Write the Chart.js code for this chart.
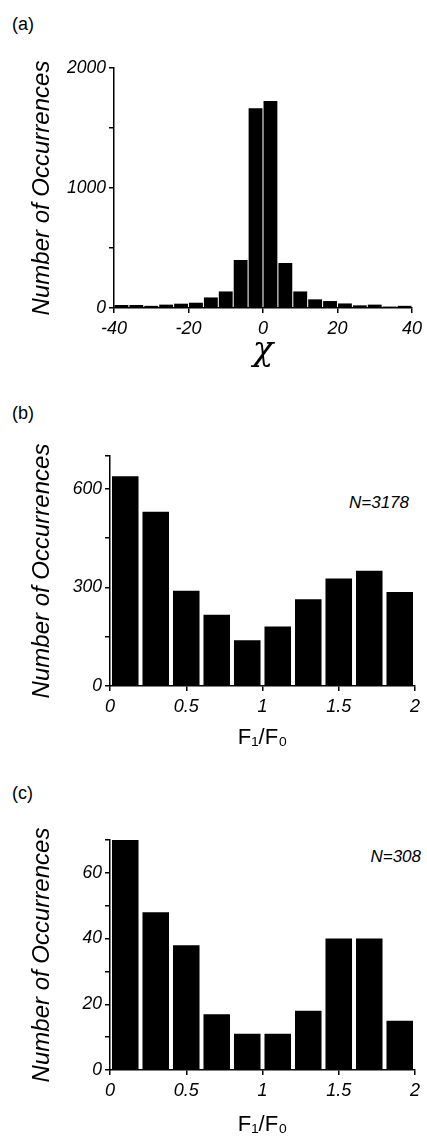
<!DOCTYPE html>
<html>
<head>
<meta charset="utf-8">
<script src="https://cdn.jsdelivr.net/npm/chart.js@4"></script>
<style>
  body { margin: 0; background: #fff; width: 427px; height: 1138px; position: relative; overflow: hidden; }
  canvas { position: absolute; left: 0; }
  .tag { position: absolute; left: 12px; font: 18px "Liberation Sans", Arial, sans-serif; line-height: 20px; color: #000; }
  .n { position: absolute; font: italic 17px "Liberation Sans", Arial, sans-serif; line-height: 20px; color: #000; }
</style>
</head>
<body>
<div class="tag" style="top:14px">(a)</div>
<div class="tag" style="top:403px">(b)</div>
<div class="tag" style="top:783px">(c)</div>
<div class="n" style="top:493px; right:18px">N=3178</div>
<div class="n" style="top:847px; right:6px">N=308</div>
<canvas id="chart-a" width="427" height="380" style="top:0px"></canvas>
<canvas id="chart-b" width="427" height="380" style="top:380px"></canvas>
<canvas id="chart-c" width="427" height="378" style="top:760px"></canvas>
<script>
// datos (centros de clase y cuentas)
const chiBins = [-38, -34, -30, -26, -22, -18, -14, -10, -6, -2, 2, 6, 10, 14, 18, 22, 26, 30, 34, 38];
const chiCounts = [25, 25, 18, 28, 36, 44, 88, 138, 400, 1665, 1725, 375, 138, 72, 58, 38, 22, 28, 12, 18];
const chiTicks = [0, 1000, 2000];

const ratioBins = [0.1, 0.3, 0.5, 0.7, 0.9, 1.1, 1.3, 1.5, 1.7, 1.9];
const countsB = [638, 530, 290, 217, 139, 181, 264, 327, 351, 286];
const ticksB = [0, 300, 600];
const countsC = [70, 48, 38, 17, 11, 11, 18, 40, 40, 15];
const ticksC = [0, 20, 40, 60];

const FONT = '"Liberation Sans", Arial, sans-serif';

function histogram(id, bins, counts, cfg) {
  new Chart(document.getElementById(id), {
    type: 'bar',
    data: {
      datasets: [{
        data: bins.map((b, i) => ({ x: b, y: counts[i] })),
        backgroundColor: '#000',
        borderWidth: 0,
        barPercentage: cfg.barPct,
        categoryPercentage: 1,
      }],
    },
    options: {
      responsive: false,
      animation: false,
      devicePixelRatio: 1,
      layout: { padding: cfg.padding },
      plugins: { legend: { display: false }, tooltip: { enabled: false } },
      scales: {
        x: {
          type: 'linear',
          offset: false,
          min: cfg.xMin,
          max: cfg.xMax,
          afterFit: (s) => { s.height = cfg.xHeight; },
          border: { display: true, color: '#000', width: 1.5 },
          grid: { display: true, offset: false, drawOnChartArea: false, drawTicks: true, tickLength: 5, color: '#000', lineWidth: 1.5 },
          ticks: {
            stepSize: cfg.xStep,
            color: '#000',
            padding: 5,
            maxRotation: 0,
            font: { family: FONT, size: 18, style: 'italic' },
            callback: (v) => String(v),
          },
          title: { display: true, text: cfg.xTitle, color: '#000', font: cfg.xTitleFont, padding: { top: 0, bottom: cfg.xTitlePad } },
        },
        y: {
          min: 0,
          max: cfg.yMax,
          afterFit: (s) => { s.width = cfg.yWidth; },
          border: { display: true, color: '#000', width: 1.5 },
          grid: { display: true, drawOnChartArea: false, drawTicks: true, tickLength: 5, color: '#000', lineWidth: 1.5 },
          ticks: {
            stepSize: cfg.yStep,
            color: '#000',
            padding: 3,
            autoSkip: false,
            font: { family: FONT, size: 17.5, style: 'italic' },
            callback: (v) => (cfg.yLabels.includes(v) ? String(v) : ''),
          },
          title: { display: true, text: 'Number of Occurrences', color: '#000', font: { family: FONT, size: 24, style: 'italic' }, padding: { top: 28, bottom: 0 } },
        },
      },
    },
  });
}

histogram('chart-a', chiBins, chiCounts, {
  barPct: 0.93, xMin: -40, xMax: 40, xStep: 20, yMax: 2000, yStep: 500, yLabels: chiTicks,
  padding: { top: 68, left: 0, right: 14, bottom: 0 }, xHeight: 72, yWidth: 114,
  xTitle: 'χ', xTitleFont: { family: '"DejaVu Serif", "Liberation Serif", serif', size: 34, style: 'italic' }, xTitlePad: 8,
});

histogram('chart-b', ratioBins, countsB, {
  barPct: 0.87, xMin: 0, xMax: 2, xStep: 0.5, yMax: 700, yStep: 150, yLabels: ticksB,
  padding: { top: 76, left: 0, right: 12, bottom: 0 }, xHeight: 74, yWidth: 110,
  xTitle: 'F₁/F₀', xTitleFont: { family: FONT, size: 22 }, xTitlePad: 9,
});

histogram('chart-c', ratioBins, countsC, {
  barPct: 0.87, xMin: 0, xMax: 2, xStep: 0.5, yMax: 70, yStep: 10, yLabels: ticksC,
  padding: { top: 80, left: 0, right: 12, bottom: 0 }, xHeight: 68, yWidth: 110,
  xTitle: 'F₁/F₀', xTitleFont: { family: FONT, size: 22 }, xTitlePad: 0,
});
</script>
</body>
</html>
